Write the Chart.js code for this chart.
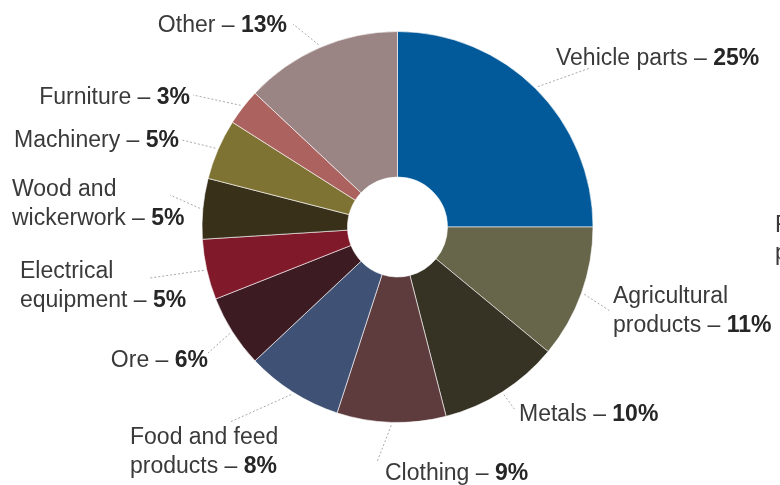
<!DOCTYPE html>
<html>
<head>
<meta charset="utf-8">
<script src="https://cdn.jsdelivr.net/npm/chart.js@4.4.0/dist/chart.umd.min.js"></script>
<style>
  html, body { margin: 0; padding: 0; background: #ffffff; }
  #wrap { width: 780px; height: 485px; position: relative; }
</style>
</head>
<body>
<div id="wrap"><canvas id="c" width="780" height="485"></canvas></div>
<script>
// Data
const categories = ["Vehicle parts", "Agricultural products", "Metals", "Clothing", "Food and feed products", "Ore", "Electrical equipment", "Wood and wickerwork", "Machinery", "Furniture", "Other"];
const shares = [25, 11, 10, 9, 8, 6, 5, 5, 5, 3, 13];
const labelLines = [
  ["Vehicle parts – "],
  ["Agricultural", "products – "],
  ["Metals – "],
  ["Clothing – "],
  ["Food and feed", "products – "],
  ["Ore – "],
  ["Electrical", "equipment – "],
  ["Wood and", "wickerwork – "],
  ["Machinery – "],
  ["Furniture – "],
  ["Other – "]
];
const colors = ["#035a9a", "#67654a", "#363325", "#5e3b3d", "#3f5174", "#3c1b22", "#801a2b", "#39301a", "#7f7334", "#ac635f", "#9b8584"];

// Label layout (anchor x, first line middle y, alignment)
const labelPos = [
  {x: 556, y: 59, align: "left"},
  {x: 613, y: 297, align: "left"},
  {x: 519, y: 415, align: "left"},
  {x: 385, y: 474, align: "left"},
  {x: 130, y: 438, align: "left"},
  {x: 208, y: 361, align: "right"},
  {x: 20, y: 272, align: "left"},
  {x: 12, y: 190, align: "left"},
  {x: 179, y: 141, align: "right"},
  {x: 190, y: 98, align: "right"},
  {x: 287, y: 26, align: "right"}
];
// leader line end points (near label)
const leaderEnd = [
  [590, 68], [610, 311], [515, 410], [377, 462], [230, 422], [208, 353], [150, 278], [170, 195], [182, 140], [193, 95], [293, 24]
];

const FONT = '"Liberation Sans Narrow", "Liberation Sans", Roboto, sans-serif';
const FS = 23;
const LH = 28.5;

const labelPlugin = {
  id: 'labels',
  afterDraw(chart) {
    const ctx = chart.ctx;
    const meta = chart.getDatasetMeta(0);
    ctx.save();
    // leader lines
    ctx.strokeStyle = '#a9a9a9';
    ctx.lineWidth = 1;
    ctx.setLineDash([2, 2]);
    meta.data.forEach((arc, i) => {
      const p = arc.getProps(['x', 'y', 'startAngle', 'endAngle', 'outerRadius'], true);
      const mid = (p.startAngle + p.endAngle) / 2;
      const r = p.outerRadius + 3;
      const sx = p.x + Math.cos(mid) * r;
      const sy = p.y + Math.sin(mid) * r;
      ctx.beginPath();
      ctx.moveTo(sx, sy);
      ctx.lineTo(leaderEnd[i][0], leaderEnd[i][1]);
      ctx.stroke();
    });
    ctx.setLineDash([]);
    // texts
    ctx.textBaseline = 'middle';
    labelLines.forEach((lines, i) => {
      const pos = labelPos[i];
      const pct = shares[i] + '%';
      lines.forEach((line, j) => {
        const y = pos.y + j * LH;
        const isLast = j === lines.length - 1;
        ctx.font = '300 ' + FS + 'px ' + FONT;
        const w1 = ctx.measureText(line).width;
        ctx.font = 'bold ' + FS + 'px ' + FONT;
        const w2 = isLast ? ctx.measureText(pct).width : 0;
        const x0 = pos.align === 'right' ? pos.x - (w1 + w2) : pos.x;
        ctx.textAlign = 'left';
        ctx.font = '300 ' + FS + 'px ' + FONT;
        ctx.fillStyle = '#3a3a3a';
        ctx.fillText(line, x0, y);
        if (isLast) {
          ctx.font = 'bold ' + FS + 'px ' + FONT;
          ctx.fillStyle = '#262626';
          ctx.fillText(pct, x0 + w1, y);
        }
      });
    });
    // clipped note text at right edge
    ctx.font = '300 ' + FS + 'px ' + FONT;
    ctx.fillStyle = '#3a3a3a';
    ctx.textAlign = 'left';
    ctx.fillText('F', 775, 226);
    ctx.fillText('p', 775, 254);
    ctx.restore();
  }
};

new Chart(document.getElementById('c'), {
  type: 'doughnut',
  data: {
    labels: categories,
    datasets: [{
      data: shares,
      backgroundColor: colors,
      borderColor: 'rgba(255,255,255,0.6)',
      borderWidth: 1
    }]
  },
  options: {
    responsive: false,
    animation: false,
    cutout: 50,
    layout: { padding: { top: 31, bottom: 62, left: 15, right: 0 } },
    plugins: { legend: { display: false }, tooltip: { enabled: false } }
  },
  plugins: [labelPlugin]
});
</script>
</body>
</html>
